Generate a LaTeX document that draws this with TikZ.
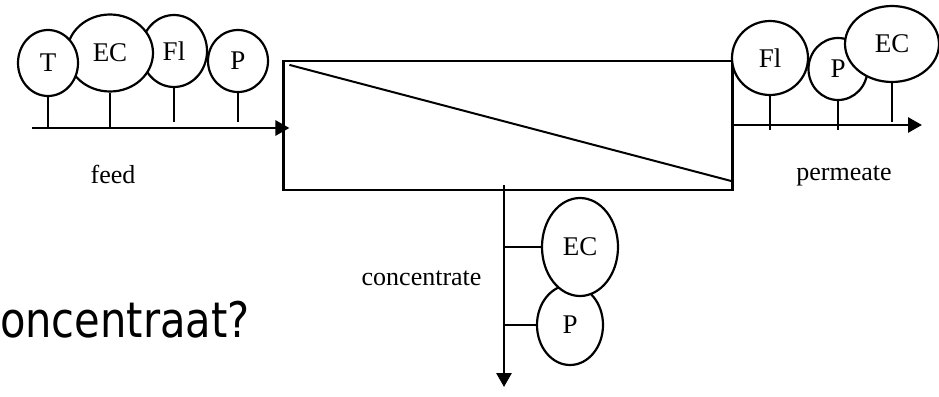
\documentclass[tikz,border=0pt]{standalone}
\usepackage{fontspec}
\setmainfont{Liberation Serif}
\newfontfamily\slidefont{DejaVu Sans}
\usetikzlibrary{shapes.geometric,arrows.meta}

\begin{document}
\begin{tikzpicture}[
  x=1pt, y=-1pt,
  sensor/.style={draw, ellipse, fill=white, line width=2.2pt, inner sep=0pt,
    font=\fontsize{27}{27}\selectfont},
  stem/.style={line width=2pt},
  flow/.style={line width=2.8pt, -{Triangle[length=14pt,width=15pt]}},
  lbl/.style={font=\fontsize{26}{26}\selectfont}
]
\useasboundingbox (0,0) rectangle (939,396);
% membrane module
\node[draw, line width=2.2pt, minimum width=449pt, minimum height=129pt, inner sep=0pt]
  (module) at (508,125.5) {};
\draw[line width=2pt] ([shift={(7,5)}]module.north west) -- ([shift={(-2,-10)}]module.south east);
% feed
\coordinate (feedin) at (32,128);
\node[sensor, minimum width=66pt, minimum height=72pt] (feedFl) at (174,51) {Fl};
\node[sensor, minimum width=86pt, minimum height=77pt] (feedEC) at (110,53) {EC};
\node[sensor, minimum width=60pt, minimum height=66pt] (feedT) at (48,63) {T};
\node[sensor, minimum width=60pt, minimum height=62pt] (feedP) at (238,61) {P};
\draw[flow] (feedin) -- ([xshift=7pt]feedin -| module.west);
\draw[stem] (feedT) -- (feedT |- feedin);
\draw[stem] (feedEC) -- (feedEC |- feedin);
\draw[stem] (feedFl) -- (feedFl |- 0,122);
\draw[stem] (feedP) -- (feedP |- 0,122);
\node[lbl, anchor=base] (feedlbl) at (113,183) {feed};
% permeate
\coordinate (permout) at (922,125);
\node[sensor, minimum width=76pt, minimum height=74pt] (permFl) at (770,58) {Fl};
\node[sensor, minimum width=59pt, minimum height=62pt] (permP) at (838,69) {P};
\node[sensor, minimum width=94pt, minimum height=76pt] (permEC) at (892,44) {EC};
\draw[flow] (module.east |- permout) -- (permout);
\draw[stem] (permFl) -- (permFl |- 0,130);
\draw[stem] (permP) -- (permP |- 0,130);
\draw[stem] (permEC) -- (permEC |- 0,122);
\node[lbl, anchor=base] (permlbl) at (844,180) {permeate};
% concentrate
\coordinate (concin) at (504,185);
\coordinate (concout) at (504,387);
\draw[flow] (concin) -- (concout);
\node[sensor, minimum width=66pt, minimum height=80pt] (concP) at (570,325) {P};
\node[sensor, minimum width=76pt, minimum height=98pt] (concEC) at (580,247) {EC};
\draw[stem] (concEC) -- (concEC -| concin);
\draw[stem] (concP) -- (concP -| concin);
\node[lbl, anchor=base east] (conclbl) at (485,285) {concentrate};
% slide text
\node[font=\slidefont\fontsize{49}{49}\selectfont, anchor=base east, xscale=0.85, inner sep=0pt]
  (question) at (250,337) {oncentraat?};
\end{tikzpicture}
\end{document}
